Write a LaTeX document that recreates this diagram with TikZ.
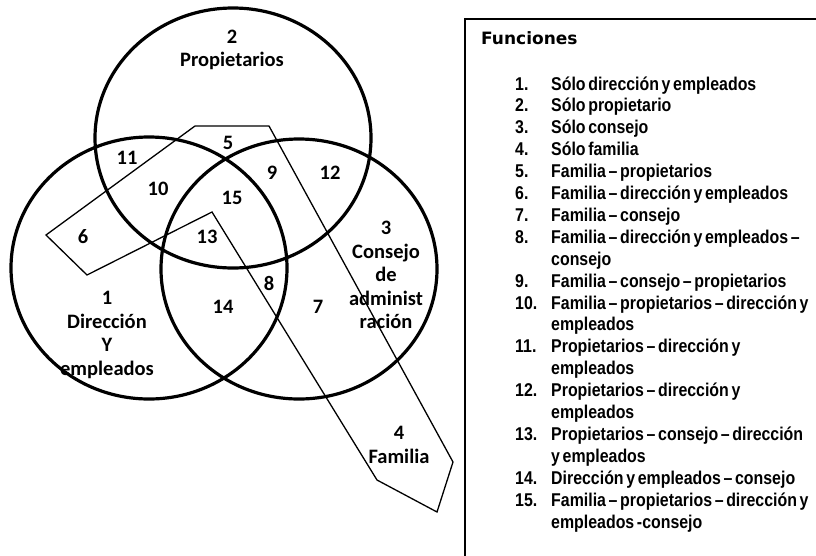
\documentclass[tikz,border=0pt]{standalone}
\usepackage{fontspec}
\setmainfont{Carlito}
\newfontfamily\listfont[FakeStretch=0.86, WordSpace=0.6]{Liberation Sans}
\newfontfamily\titlefont{DejaVu Sans}
\usepackage{tikz}
\usetikzlibrary{
    calc,       % For coordinate calculations
    positioning % For label positioning
}

\begin{document}
\begin{tikzpicture}[
    x=1pt, y=-1pt, % pixel-like units, y grows downwards
    ring/.style={line width=3.2pt},       % Style for the three circles
    famshape/.style={line width=1.3pt},   % Style for the family outline
    frame/.style={line width=2.6pt},      % Style for the legend box
    lbl/.style={font=\bfseries\fontsize{20.5}{23.5}\selectfont, align=center, inner sep=0pt},
    item/.style={font=\listfont\bfseries\fontsize{18.5}{21.9}\selectfont, anchor=base west, inner sep=0pt},
    title/.style={font=\titlefont\bfseries\fontsize{17}{20}\selectfont, anchor=base west, inner sep=0pt}
]

    % Canvas (keeps the margins of the page)
    \clip (0,0) rectangle (816,555);

    % Family outline (drawn first so circles lie on top)
    \draw[famshape] (195,126) -- (269,126) -- (453,462) -- (437,512) -- (377,480)
        -- (212,212) -- (87,275) -- (46,235) -- cycle;

    % --- The three circles ---
    \draw[ring] (233,138) ellipse [x radius=138pt, y radius=130pt]; % Propietarios
    \draw[ring] (149,268) ellipse [x radius=138pt, y radius=131pt]; % Direccion
    \draw[ring] (299,269) ellipse [x radius=138pt, y radius=130pt]; % Consejo

    % Group labels
    \node[lbl] (lab2) at (232,50)  {2\\Propietarios};
    \node[lbl] (lab1) at (107,335) {1\\Dirección\\Y\\empleados};
    \node[lbl] (lab3) at (386,275) {3\\Consejo\\de\\administ\\ración};
    \node[lbl] (lab4) at (399,445) {4\\Familia};

    % Region numbers
    \foreach \n/\px/\py in {5/228/143, 11/127/158, 10/158/189, 9/272/173, 12/330/173,
                            15/232/198, 6/83/237, 13/207/237, 8/269/283, 14/223/307, 7/318/307}
        \node[lbl] (reg\n) at (\px,\py) {\n};

    % --- Legend ---
    \draw[frame] (465,570) |- (830,19);
    \node[title] (functitle) at (481,44) {Funciones};

    % Item numbers (number / row)
    \foreach \n/\r in {1/1, 2/2, 3/3, 4/4, 5/5, 6/6, 7/7, 8/8, 9/10, 10/11,
                       11/13, 12/15, 13/17, 14/19, 15/20}
        \node[item] (num\n) at (515, {90+21.9*(\r-1)}) {\n.};

    % Item texts, one node per printed row
    \foreach \r/\t in {1/{Sólo dirección y empleados},
                       2/{Sólo propietario},
                       3/{Sólo consejo},
                       4/{Sólo familia},
                       5/{Familia – propietarios},
                       6/{Familia – dirección y empleados},
                       7/{Familia – consejo},
                       8/{Familia – dirección y empleados –},
                       9/{consejo},
                       10/{Familia – consejo – propietarios},
                       11/{Familia – propietarios – dirección y},
                       12/{empleados},
                       13/{Propietarios – dirección y},
                       14/{empleados},
                       15/{Propietarios – dirección y},
                       16/{empleados},
                       17/{Propietarios – consejo – dirección},
                       18/{y empleados},
                       19/{Dirección y empleados – consejo},
                       20/{Familia – propietarios – dirección y},
                       21/{empleados -consejo}}
        \node[item] (row\r) at (551, {90+21.9*(\r-1)}) {\t};

\end{tikzpicture}
\end{document}
